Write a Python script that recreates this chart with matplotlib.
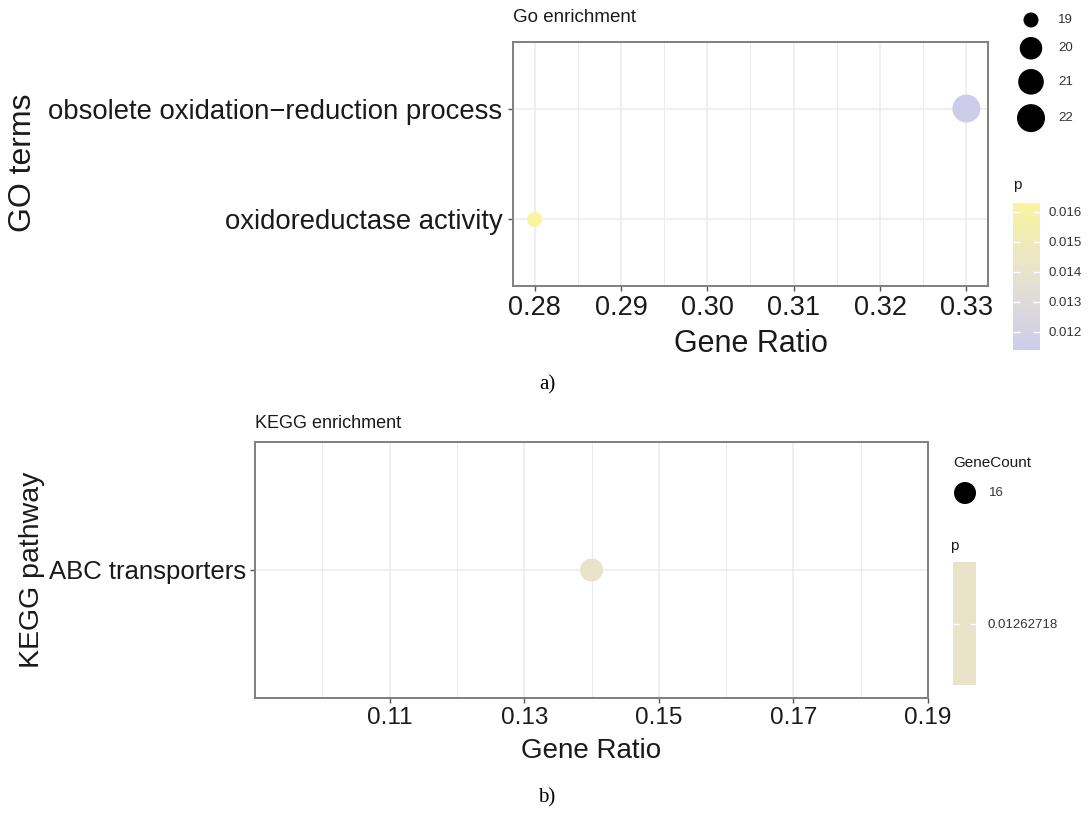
import matplotlib
matplotlib.use("Agg")
import matplotlib.pyplot as plt
import numpy as np
from matplotlib.colors import LinearSegmentedColormap, Normalize
from matplotlib.cm import ScalarMappable

# ---------------- data ----------------
go_terms = ["oxidoreductase activity", "obsolete oxidation\u2212reduction process"]
go_ratio = [0.28, 0.33]
go_count = [19, 22]
go_p = [0.0163, 0.0114]
go_size_breaks = [19, 20, 21, 22]
go_p_ticks = [0.012, 0.013, 0.014, 0.015, 0.016]
go_x_ticks = [0.28, 0.29, 0.30, 0.31, 0.32, 0.33]

kegg_terms = ["ABC transporters"]
kegg_ratio = [0.14]
kegg_count = [16]
kegg_p = [0.01262718]
kegg_x_ticks = [0.11, 0.13, 0.15, 0.17, 0.19]
kegg_x_limits = [0.09, 0.19]

# ---------------- style ----------------
W, H = 1088, 814
SANS = ["Liberation Sans", "DejaVu Sans"]
SERIF = ["Liberation Serif", "DejaVu Serif"]
plt.rcParams["font.family"] = SANS
GRID = "#EBEBEB"
BORDER = "#7F7F7F"
TXT = "#1A1A1A"
PX = 0.72  # points per pixel at dpi 100

go_cmap = LinearSegmentedColormap.from_list(
    "go", ["#CDCCEB", "#E6E2D0", "#F9F49E"])
go_norm = Normalize(min(go_p), max(go_p))
kegg_cmap = LinearSegmentedColormap.from_list("kegg", ["#E9E3CA", "#E9E3CA"])
kegg_norm = Normalize(kegg_p[0] - 1e-5, kegg_p[0] + 1e-5)

D_MIN, D_MAX = 15.0, 28.0  # marker diameter range (px)


def go_diam(c):
    c = np.asarray(c, dtype=float)
    lo, hi = min(go_count), max(go_count)
    return D_MIN + (D_MAX - D_MIN) * np.sqrt((c - lo) / (hi - lo))


def area(d_px):
    return (np.asarray(d_px) * PX) ** 2


def box(l, t, r, b):
    return [l / W, 1 - b / H, (r - l) / W, (b - t) / H]


fig = plt.figure(figsize=(W / 100, H / 100), dpi=100)


def style_axes(ax, xmajor, xminor):
    ax.set_xticks(xmajor)
    ax.set_xticks(xminor, minor=True)
    ax.grid(True, which="major", color=GRID, lw=1.1, zorder=0)
    ax.grid(True, which="minor", axis="x", color=GRID, lw=0.7, zorder=0)
    ax.set_axisbelow(True)
    for s in ax.spines.values():
        s.set_color(BORDER)
        s.set_linewidth(1.4)
    ax.tick_params(which="major", length=3.5, width=1, color="#555555",
                   labelcolor=TXT)
    ax.tick_params(which="minor", length=0)


# ---------------- panel a ----------------
ax1 = fig.add_axes(box(513, 42, 988, 286))
y1 = np.arange(1, len(go_terms) + 1)
ax1.scatter(go_ratio, y1, s=area(go_diam(go_count)), c=go_p, cmap=go_cmap,
            norm=go_norm, edgecolors="none", zorder=3)
pad = 0.05 * (max(go_ratio) - min(go_ratio))
ax1.set_xlim(min(go_ratio) - pad, max(go_ratio) + pad)
ax1.set_ylim(0.4, len(go_terms) + 0.6)
minor_a = [(a + b) / 2 for a, b in zip(go_x_ticks[:-1], go_x_ticks[1:])]
style_axes(ax1, go_x_ticks, minor_a)
ax1.set_xticklabels([f"{v:.2f}" for v in go_x_ticks])
ax1.set_yticks(y1)
ax1.set_yticklabels(go_terms)
ax1.tick_params(axis="x", labelsize=19.5, pad=3)
ax1.tick_params(axis="y", labelsize=19.8, pad=4)
ax1.set_xlabel("Gene Ratio", fontsize=22, color=TXT, va="center")
ax1.xaxis.set_label_coords(0.5, (286 - 344) / 244)
ax1.set_ylabel("GO terms", fontsize=23, color=TXT, va="center")
ax1.yaxis.set_label_coords((23 - 513) / 475, (286 - 163) / 244)
fig.text(513 / W, 1 - 18 / H, "Go enrichment", fontsize=13.5, color=TXT,
         ha="left", va="center")

# overlay axes in pixel units for legends
lax = fig.add_axes([0, 0, 1, 1], zorder=5)
lax.set_xlim(0, W)
lax.set_ylim(H, 0)
lax.axis("off")

# size legend (a)
d_keys = go_diam(go_size_breaks)
gap = 9.5
tops = 7.75 + np.concatenate([[0], np.cumsum(d_keys + gap)[:-1]])
centers = tops + (d_keys + gap) / 2
lax.scatter(np.full(len(d_keys), 1031), centers, s=area(d_keys), c="black",
            edgecolors="none")
for yc, lab in zip(centers, go_size_breaks):
    lax.text(1058, yc, str(lab), fontsize=9.5, color="#333333",
             ha="left", va="center")

# colour bar (a)
cax1 = fig.add_axes(box(1013, 203, 1040, 350))
cb1 = fig.colorbar(ScalarMappable(go_norm, go_cmap), cax=cax1, ticks=go_p_ticks)
cb1.outline.set_visible(False)
cb1.ax.set_yticklabels([f"{v:.3f}" for v in go_p_ticks])
cax1.tick_params(direction="in", length=5, width=1, color="white",
                 left=True, right=True, labelright=True, labelleft=False,
                 labelsize=9.5, labelcolor="#333333", pad=6)
fig.text(1013 / W, 1 - 185 / H, "p", fontsize=11, color=TXT,
         ha="left", va="center")

fig.text(547 / W, 1 - 385 / H, "a)", fontsize=15, family=SERIF,
         color="black", ha="center", va="center")

# ---------------- panel b ----------------
ax2 = fig.add_axes(box(255, 442, 928, 698))
y2 = np.arange(1, len(kegg_terms) + 1)
ax2.scatter(kegg_ratio, y2, s=area([23.0] * len(kegg_ratio)), c=kegg_p,
            cmap=kegg_cmap, norm=kegg_norm, edgecolors="none", zorder=3)
ax2.set_xlim(*kegg_x_limits)
ax2.set_ylim(0.4, len(kegg_terms) + 0.6)
minor_b = [round(t - 0.01, 2) for t in kegg_x_ticks]
style_axes(ax2, kegg_x_ticks, minor_b)
ax2.set_xticklabels([f"{v:.2f}" for v in kegg_x_ticks])
ax2.set_yticks(y2)
ax2.set_yticklabels(kegg_terms)
ax2.tick_params(axis="x", labelsize=17.5, pad=3)
ax2.tick_params(axis="y", labelsize=18.5, pad=3)
ax2.set_xlabel("Gene Ratio", fontsize=20, color=TXT, va="center")
ax2.xaxis.set_label_coords(0.5, (698 - 751) / 256)
ax2.set_ylabel("KEGG pathway", fontsize=20.5, color=TXT, va="center")
ax2.yaxis.set_label_coords((32 - 255) / 673, 0.5)
fig.text(255 / W, 1 - 424 / H, "KEGG enrichment", fontsize=13, color=TXT,
         ha="left", va="center")

# size legend (b)
fig.text(953 / W, 1 - 463 / H, "GeneCount", fontsize=11, color=TXT,
         ha="left", va="center")
lax.scatter([965], [493], s=area([22.0]), c="black", edgecolors="none")
lax.text(989, 493, str(kegg_count[0]), fontsize=9.5, color="#333333",
         ha="left", va="center")

# colour bar (b)
cax2 = fig.add_axes(box(953, 562, 976, 685))
cb2 = fig.colorbar(ScalarMappable(kegg_norm, kegg_cmap), cax=cax2,
                   ticks=kegg_p)
cb2.outline.set_visible(False)
cb2.ax.set_yticklabels([f"{v:.8f}" for v in kegg_p])
cax2.tick_params(direction="in", length=4, width=1, color="white",
                 left=True, right=True, labelright=True, labelleft=False,
                 labelsize=9.5, labelcolor="#333333", pad=8)
fig.text(950 / W, 1 - 546 / H, "p", fontsize=11, color=TXT,
         ha="left", va="center")

fig.text(547 / W, 1 - 798 / H, "b)", fontsize=15, family=SERIF,
         color="black", ha="center", va="center")

fig.savefig("out.png", dpi=100)
